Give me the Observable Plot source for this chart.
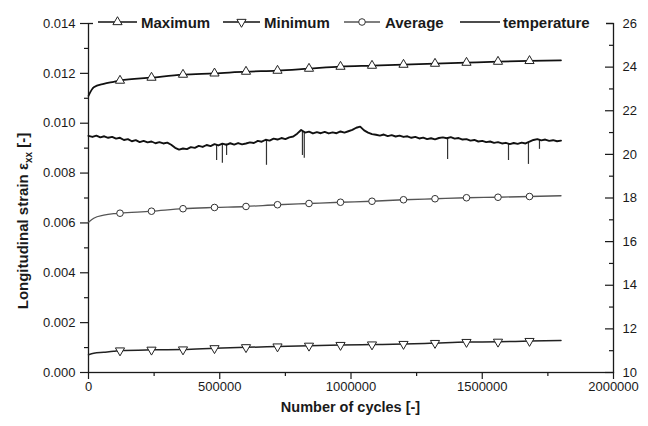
<!DOCTYPE html>
<html><head><meta charset="utf-8">
<script src="https://cdn.jsdelivr.net/npm/d3@7"></script>
<script src="https://cdn.jsdelivr.net/npm/@observablehq/plot@0.6"></script>
<style>
body{margin:0;background:#fff;font-family:"Liberation Sans",Arial,sans-serif;}
#wrap{position:relative;width:648px;height:426px;}
#legend{position:absolute;left:93px;top:13px;}
</style></head><body><div id="wrap"><div id="chart"></div><div id="legend"></div></div>
<script>
// ---- data ----
const strainCycles = [0, 20000, 58000, 96000, 120000, 240000, 360000, 480000, 600000, 720000, 840000, 960000, 1080000, 1200000, 1320000, 1440000, 1560000, 1680000, 1800000];
const maximum = [0.01110, 0.01144, 0.01158, 0.01166, 0.01171, 0.01183, 0.01195, 0.01200, 0.01207, 0.01211, 0.01219, 0.01227, 0.01231, 0.01235, 0.01239, 0.01243, 0.01247, 0.01250, 0.01252];
const minimum = [0.00071, 0.00077, 0.00081, 0.00085, 0.00088, 0.00091, 0.00092, 0.00097, 0.00101, 0.00104, 0.00107, 0.00110, 0.00112, 0.00114, 0.00118, 0.00122, 0.00123, 0.00126, 0.00128];
const average = [0.00603, 0.00619, 0.00631, 0.00637, 0.00639, 0.00647, 0.00657, 0.00662, 0.00666, 0.00673, 0.00678, 0.00683, 0.00687, 0.00693, 0.00697, 0.00701, 0.00703, 0.00706, 0.00709];
const markerCycles = [120000, 240000, 360000, 480000, 600000, 720000, 840000, 960000, 1080000, 1200000, 1320000, 1440000, 1560000, 1680000];

const tempStep = 15000;
const temperature = [
 20.85,20.80,20.86,20.78,20.83,20.76,20.80,20.72,20.76,20.66,20.70,20.60,20.65,20.56,20.62,20.55,20.59,20.51,20.56,20.50,
 20.54,20.44,20.30,20.22,20.27,20.24,20.33,20.30,20.39,20.34,20.43,20.38,20.47,20.41,20.49,20.44,20.51,20.45,20.52,20.46,
 20.50,20.55,20.52,20.62,20.58,20.67,20.63,20.72,20.68,20.75,20.70,20.78,20.82,20.95,21.12,21.00,21.04,20.96,21.02,20.97,
 21.03,20.96,21.01,20.97,21.05,21.00,21.06,21.12,21.22,21.27,21.10,21.00,20.93,20.90,20.86,20.91,20.84,20.88,20.82,20.86,
 20.80,20.83,20.76,20.80,20.73,20.77,20.70,20.74,20.69,20.75,20.78,20.74,20.79,20.72,20.75,20.68,20.70,20.63,20.66,20.59,
 20.62,20.56,20.59,20.53,20.56,20.50,20.53,20.47,20.52,20.48,20.54,20.50,20.58,20.66,20.70,20.64,20.68,20.62,20.65,20.60,
 20.63];
const spikeCycles = [488000, 510000, 526000, 678000, 815000, 822000, 1368000, 1600000, 1676000, 1718000];
const spikeLows   = [19.72, 19.59, 19.95, 19.50, 19.95, 19.82, 19.77, 19.72, 19.54, 20.23];
const spikeHighs  = [20.45, 20.48, 20.47, 20.66, 21.05, 21.02, 20.76, 20.49, 20.55, 20.67];

const xMajor = [0, 500000, 1000000, 1500000, 2000000];
const xMinor = [250000, 750000, 1250000, 1750000];
const yMajor = [0, 0.002, 0.004, 0.006, 0.008, 0.010, 0.012, 0.014];
const yMinor = [0.001, 0.003, 0.005, 0.007, 0.009, 0.011, 0.013];
const tempMajor = [10, 12, 14, 16, 18, 20, 22, 24, 26];
const tempMinor = [11, 13, 15, 17, 19, 21, 23, 25];
const strainDomain = [0, 0.014];
const tempDomain = [10, 26];
const legendLabels = ["Maximum", "Minimum", "Average", "temperature"];

// ---- layout ----
const W = 648, H = 426, mL = 88, mR = 35, mT = 23, mB = 54;
const plotW = W - mL - mR;
const ink = "#1a1a1a";
const toS = t => (t - tempDomain[0]) / (tempDomain[1] - tempDomain[0]) * (strainDomain[1] - strainDomain[0]) + strainDomain[0];
const fromS = s => (s - strainDomain[0]) / (strainDomain[1] - strainDomain[0]) * (tempDomain[1] - tempDomain[0]) + tempDomain[0];

const rows = strainCycles.map((c, i) => ({c, max: maximum[i], min: minimum[i], avg: average[i]}));
const mrows = rows.filter(r => markerCycles.includes(r.c));
const trows = temperature.map((t, i) => ({c: i * tempStep, s: toS(t)}));
const spikes = spikeCycles.map((c, i) => ({c, lo: toS(spikeLows[i]), hi: toS(spikeHighs[i])}));

const chart = Plot.plot({
  width: W, height: H, marginLeft: mL, marginRight: mR, marginTop: mT, marginBottom: mB,
  style: {fontFamily: "'Liberation Sans', Arial, sans-serif", fontSize: "13px", color: ink, background: "#fff", overflow: "visible"},
  x: {domain: [0, 2000000]},
  y: {domain: strainDomain},
  marks: [
    Plot.axisX({ticks: xMajor, tickSize: 7, tickPadding: 2, tickFormat: d => String(d), label: null, stroke: ink, strokeWidth: 1.2}),
    Plot.axisX({ticks: xMinor, tickSize: 4, tickFormat: () => "", label: null, stroke: ink, strokeWidth: 1.2}),
    Plot.axisY({ticks: yMajor, tickSize: 8, tickPadding: 5, tickFormat: d3.format(".3f"), label: null, stroke: ink, strokeWidth: 1.2}),
    Plot.axisY({ticks: yMinor, tickSize: 4, tickFormat: () => "", label: null, stroke: ink, strokeWidth: 1.2}),
    Plot.axisY({anchor: "right", ticks: tempMajor.map(toS), tickSize: 0, tickPadding: 9, tickFormat: d => String(Math.round(fromS(d))), label: null}),
    Plot.tickY(tempMajor.map(toS), {y: d => d, insetLeft: plotW - 8, stroke: ink, strokeWidth: 1.2}),
    Plot.tickY(tempMinor.map(toS), {y: d => d, insetLeft: plotW - 4, stroke: ink, strokeWidth: 1.2}),
    Plot.frame({stroke: ink, strokeWidth: 1.3}),
    Plot.ruleX(spikes, {x: "c", y1: "lo", y2: "hi", stroke: "#333", strokeWidth: 1.2}),
    Plot.line(trows, {x: "c", y: "s", stroke: "#111", strokeWidth: 1.9}),
    Plot.line(rows, {x: "c", y: "max", stroke: "#111", strokeWidth: 1.7, curve: "monotone-x"}),
    Plot.line(rows, {x: "c", y: "avg", stroke: "#555", strokeWidth: 1.3, curve: "monotone-x"}),
    Plot.line(rows, {x: "c", y: "min", stroke: "#222", strokeWidth: 1.5, curve: "monotone-x"}),
    Plot.dot(mrows, {x: "c", y: "max", symbol: "triangle", r: 3.4, fill: "white", stroke: "#222", strokeWidth: 1}),
    Plot.dot(mrows, {x: "c", y: "min", symbol: "triangle", rotate: 180, r: 3.4, fill: "white", stroke: "#222", strokeWidth: 1}),
    Plot.dot(mrows, {x: "c", y: "avg", symbol: "circle", r: 3.3, fill: "white", stroke: "#333", strokeWidth: 1})
  ]
});
document.getElementById("chart").appendChild(chart);

// axis titles
const svg = d3.select(chart);
svg.append("text")
  .attr("x", mL + plotW / 2).attr("y", 412)
  .attr("text-anchor", "middle").attr("font-weight", "bold").attr("font-size", 14.5).attr("fill", ink)
  .text("Number of cycles [-]");
const yl = svg.append("text")
  .attr("transform", "translate(28,221) rotate(-90)")
  .attr("text-anchor", "middle").attr("font-weight", "bold").attr("font-size", 15).attr("fill", ink);
yl.append("tspan").text("Longitudinal strain ε");
yl.append("tspan").attr("dy", 4).attr("font-size", 10).text("xx");
yl.append("tspan").attr("dy", -4).text(" [-]");

// legend (white box over the top border)
const lg = d3.select("#legend").append("svg").attr("width", 513).attr("height", 18);
lg.append("rect").attr("width", 513).attr("height", 18).attr("fill", "#fff");
const items = [
  {x0: 5, x1: 44, sym: "up", tx: 48},
  {x0: 130, x1: 167, sym: "down", tx: 171},
  {x0: 251, x1: 287, sym: "circle", tx: 292},
  {x0: 367, x1: 407, sym: null, tx: 410}
];
items.forEach((it, i) => {
  const cy = 9;
  lg.append("line").attr("x1", it.x0).attr("x2", it.x1).attr("y1", cy).attr("y2", cy)
    .attr("stroke", i === 2 ? "#555" : "#111").attr("stroke-width", 1.3);
  const cx = (it.x0 + it.x1) / 2;
  if (it.sym === "circle") {
    lg.append("circle").attr("cx", cx).attr("cy", cy).attr("r", 3.3).attr("fill", "#fff").attr("stroke", "#333");
  } else if (it.sym) {
    const sym = d3.symbol(d3.symbolTriangle, Math.PI * 3.4 * 3.4)();
    lg.append("path").attr("d", sym).attr("fill", "#fff").attr("stroke", "#222")
      .attr("transform", `translate(${cx},${cy})` + (it.sym === "down" ? " rotate(180)" : ""));
  }
  lg.append("text").attr("x", it.tx).attr("y", 14.5).attr("font-weight", "bold").attr("font-size", 15)
    .attr("fill", ink).attr("font-family", "'Liberation Sans', Arial, sans-serif").text(legendLabels[i]);
});
</script></body></html>
